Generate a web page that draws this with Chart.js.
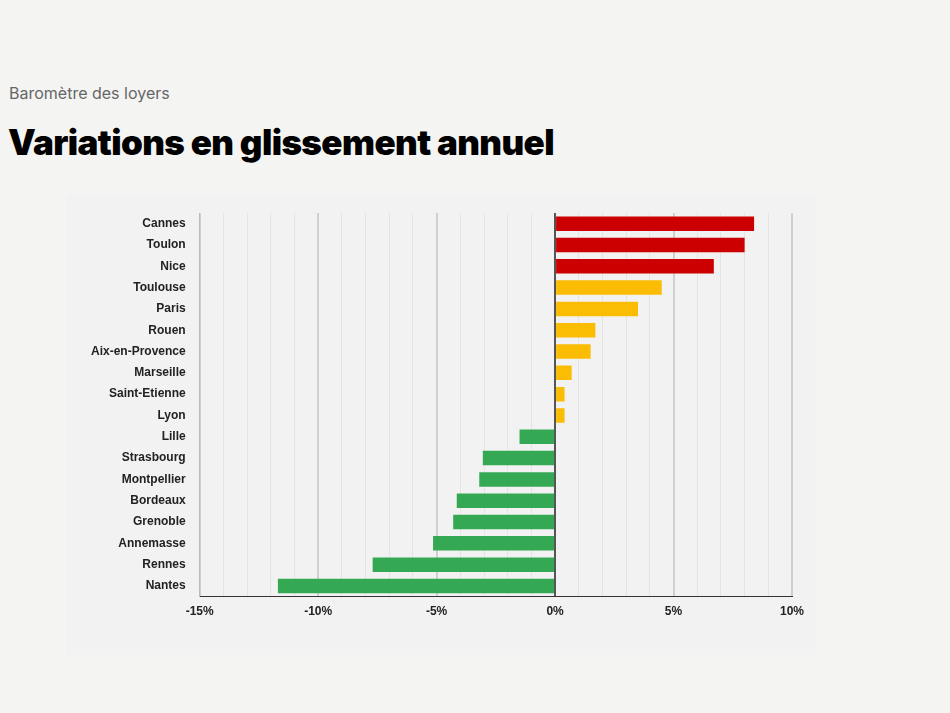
<!DOCTYPE html>
<html>
<head>
<meta charset="utf-8">
<script src="https://cdn.jsdelivr.net/npm/chart.js@4"></script>
<style>
  body { margin: 0; background: #f4f4f3; width: 950px; height: 713px; overflow: hidden; font-family: "Inter", sans-serif; }
  .sub { position: absolute; left: 9px; top: 83px; font-size: 16px; color: #666; }
  h1 { position: absolute; left: 8px; top: 121px; margin: 0; font-size: 35px; font-weight: 900; letter-spacing: -0.6px; color: #000; }
  .box { position: absolute; left: 66px; top: 195px; width: 750px; height: 460px; background: #f2f2f2; }
</style>
</head>
<body>
<div class="sub">Baromètre des loyers</div>
<h1>Variations en glissement annuel</h1>
<div class="box"><canvas id="c"></canvas></div>
<script>
const cities = ['Cannes', 'Toulon', 'Nice', 'Toulouse', 'Paris', 'Rouen', 'Aix-en-Provence', 'Marseille',
  'Saint-Etienne', 'Lyon', 'Lille', 'Strasbourg', 'Montpellier', 'Bordeaux', 'Grenoble', 'Annemasse', 'Rennes', 'Nantes'];
const variations = [8.4, 8.0, 6.7, 4.5, 3.5, 1.7, 1.5, 0.7, 0.4, 0.4, -1.5, -3.05, -3.2, -4.15, -4.3, -5.15, -7.7, -11.7];

function barColor(v) {
  if (v > 6) return '#cc0000';
  if (v > 0) return '#fbbc04';
  return '#34a853';
}

new Chart(document.getElementById('c'), {
  type: 'bar',
  data: {
    labels: cities,
    datasets: [{
      data: variations,
      backgroundColor: variations.map(barColor),
      barPercentage: 0.68,
      categoryPercentage: 1
    }]
  },
  options: {
    indexAxis: 'y',
    responsive: true,
    maintainAspectRatio: false,
    animation: false,
    layout: { padding: { top: 18, right: 24, bottom: 28, left: 19 } },
    plugins: { legend: { display: false }, tooltip: { enabled: false } },
    scales: {
      x: {
        min: -15,
        max: 10,
        ticks: {
          stepSize: 1,
          autoSkip: false,
          maxRotation: 0,
          padding: 8,
          color: '#222',
          font: { family: 'Liberation Sans', size: 12, weight: 'bold' },
          callback: (v) => (v % 5 === 0 ? v + '%' : '')
        },
        grid: {
          drawTicks: false,
          color: (ctx) => {
            const v = ctx.tick && ctx.tick.value;
            if (v === 0) return '#555';
            return v % 5 === 0 ? '#cfcfcf' : '#e4e4e4';
          },
          lineWidth: (ctx) => (ctx.tick && ctx.tick.value % 5 === 0 ? 2 : 1)
        },
        border: { color: '#333', width: 1 }
      },
      y: {
        ticks: {
          color: '#222',
          padding: 6,
          font: { family: 'Liberation Sans', size: 12, weight: 'bold' }
        },
        grid: { display: false },
        border: { color: '#bbb' }
      }
    }
  }
});
</script>
</body>
</html>
